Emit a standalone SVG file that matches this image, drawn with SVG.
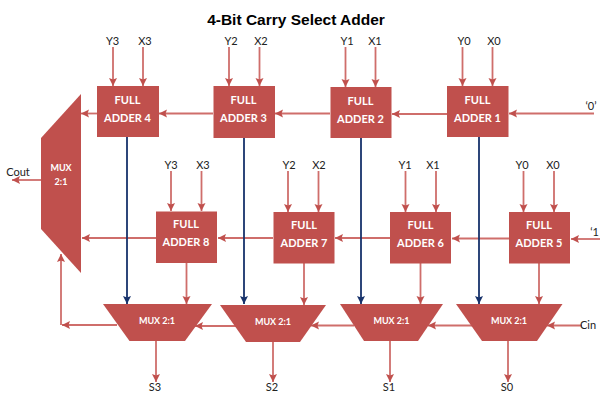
<svg xmlns="http://www.w3.org/2000/svg" width="600" height="394" viewBox="0 0 600 394">
<defs>
<marker id="r" markerUnits="userSpaceOnUse" markerWidth="9" markerHeight="9" refX="8" refY="4.500" orient="auto"><path d="M0 0.500L8 4.500L0 8.500L1.500 4.500Z" fill="#c0504d"/></marker>
<marker id="b" markerUnits="userSpaceOnUse" markerWidth="9" markerHeight="9" refX="8" refY="4.500" orient="auto"><path d="M0 0.500L8 4.500L0 8.500L1.500 4.500Z" fill="#17326b"/></marker>
</defs>
<style>
.s{fill:#c0504d}
.n{fill:#fff;font:bold 11px Lato,"Liberation Sans",sans-serif;text-anchor:middle}
.m{fill:#fff;font:bold 9px Lato,"Liberation Sans",sans-serif;text-anchor:middle}
.l{fill:#222;font:11px Lato,"Liberation Sans",sans-serif;text-anchor:middle}
.c path{fill:none;stroke:#cf6e6b;stroke-width:1.8;marker-end:url(#r)}
.c path.bl{stroke:#17326b;marker-end:url(#b)}
</style>
<rect width="600" height="394" fill="#fff"/>
<text x="296" y="25" style="font:bold 15.500px 'Liberation Sans',Arial,sans-serif;text-anchor:middle" fill="#000">4-Bit Carry Select Adder</text>
<g class="c" id="connectors">
<path d="M113 47V86"/><path d="M143 47V86"/><path d="M229 47V86"/><path d="M259.500 47V86"/><path d="M345.500 47V87"/><path d="M375.500 47V87"/><path d="M462.500 47V86"/><path d="M492.500 47V86"/>
<path d="M171 171V211"/><path d="M201.500 171V211"/><path d="M288 171V212"/><path d="M318.500 171V212"/><path d="M405.500 171V212"/><path d="M436 171V212"/><path d="M523.500 171V212"/><path d="M554 171V212"/>
<path d="M97 113.500H81"/><path d="M213 113.500H159"/><path d="M330 113.500H275"/><path d="M447 114H392"/><path d="M594 113.500H509"/>
<path d="M156 238H82"/><path d="M273 238H218"/><path d="M390 238H335"/><path d="M509 238.500H452"/><path d="M600 239H571"/>
<path class="bl" d="M127 137V304"/><path class="bl" d="M244 138V304"/><path class="bl" d="M361 138V304"/><path class="bl" d="M479 137V304"/>
<path d="M186.500 263V304"/><path d="M304 263V305"/><path d="M420.500 263V304"/><path d="M539 263V304"/>
<path d="M582 325.500H547"/><path d="M472 325.500H428"/><path d="M354 325.500H311"/><path d="M236 326H195"/><path d="M117 325H62"/>
<path d="M61 325V254"/>
<path d="M156 341V382"/><path d="M273 342V382"/><path d="M390 341V382"/><path d="M508 341V382"/>
<path d="M41 180H12"/>
</g>
<g id="fa4"><rect class="s" x="97" y="86" width="62" height="51"/><text class="n" x="127.500" y="104">FULL</text><text class="n" x="127.500" y="122">ADDER 4</text></g>
<g id="fa3"><rect class="s" x="213.500" y="86" width="61.500" height="52"/><text class="n" x="243.500" y="104">FULL</text><text class="n" x="243.500" y="122">ADDER 3</text></g>
<g id="fa2"><rect class="s" x="330.500" y="87" width="61" height="51"/><text class="n" x="360.500" y="105">FULL</text><text class="n" x="360.500" y="123">ADDER 2</text></g>
<g id="fa1"><rect class="s" x="447" y="86" width="61.500" height="51"/><text class="n" x="477.500" y="104">FULL</text><text class="n" x="477.500" y="122">ADDER 1</text></g>
<g id="fa8"><rect class="s" x="156" y="211.500" width="61" height="51.500"/><text class="n" x="186" y="228">FULL</text><text class="n" x="186" y="246">ADDER 8</text></g>
<g id="fa7"><rect class="s" x="273.500" y="212" width="61" height="51.500"/><text class="n" x="304" y="229">FULL</text><text class="n" x="304" y="247">ADDER 7</text></g>
<g id="fa6"><rect class="s" x="390" y="212" width="61" height="51.500"/><text class="n" x="420.500" y="229">FULL</text><text class="n" x="420.500" y="247">ADDER 6</text></g>
<g id="fa5"><rect class="s" x="509" y="212" width="61" height="51.500"/><text class="n" x="539" y="229">FULL</text><text class="n" x="539" y="247">ADDER 5</text></g>
<g id="muxbig"><path class="s" d="M81 94V273L41 229V138Z"/><text class="m" x="61" y="171">MUX</text><text class="m" x="61" y="185">2:1</text></g>
<g id="mux3"><path class="s" d="M103 304H212L185 341H129.500Z"/><text class="m" x="157" y="324">MUX 2:1</text></g>
<g id="mux2"><path class="s" d="M220 305H326L300 342H246Z"/><text class="m" x="273" y="325">MUX 2:1</text></g>
<g id="mux1"><path class="s" d="M340 304H443L418 341H364Z"/><text class="m" x="391.500" y="324">MUX 2:1</text></g>
<g id="mux0"><path class="s" d="M456 304H562.500L537 341H482Z"/><text class="m" x="509" y="324">MUX 2:1</text></g>
<g id="labels">
<text class="l" x="112.500" y="45">Y3</text><text class="l" x="145" y="45">X3</text><text class="l" x="231" y="45">Y2</text><text class="l" x="261" y="45">X2</text><text class="l" x="347" y="45">Y1</text><text class="l" x="375" y="45">X1</text><text class="l" x="464" y="45">Y0</text><text class="l" x="494" y="45">X0</text>
<text class="l" x="171" y="169">Y3</text><text class="l" x="203" y="169">X3</text><text class="l" x="289" y="169">Y2</text><text class="l" x="319" y="169">X2</text><text class="l" x="405" y="169">Y1</text><text class="l" x="433" y="169">X1</text><text class="l" x="522" y="169">Y0</text><text class="l" x="553" y="169">X0</text>
<text class="l" x="591" y="110">‘0’</text><text class="l" x="599" y="236" style="text-anchor:end">‘1</text>
<text class="l" x="18" y="176">Cout</text><text class="l" x="588" y="329">Cin</text>
<text class="l" x="155" y="391">S3</text><text class="l" x="272" y="391">S2</text><text class="l" x="389" y="391">S1</text><text class="l" x="507" y="391">S0</text>
</g>
</svg>
